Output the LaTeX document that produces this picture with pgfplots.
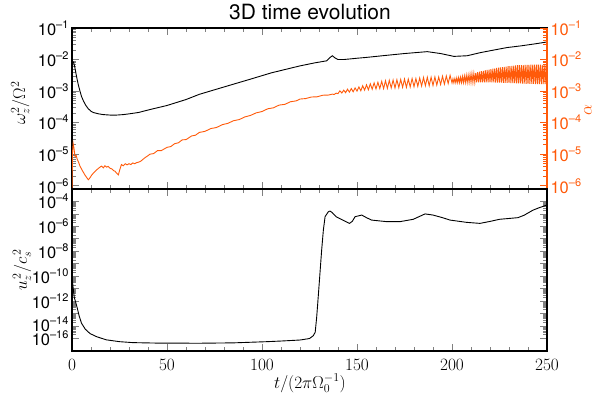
\documentclass[border=0pt]{standalone}
\usepackage{fontspec}
\setmainfont{TeX Gyre Heros}
\usepackage{pgfplots}
\pgfplotsset{compat=1.18}
\definecolor{alphaor}{RGB}{255,90,10}
% tick label 10^-n in the text font
\newcommand\tl[1]{10\raisebox{0.42em}{\fontsize{11}{11}\selectfont –#1}}

\begin{document}
\begin{tikzpicture}
\useasboundingbox (0,0) rectangle (600pt,395pt);
\pgfplotsset{
  every axis/.append style={
    scale only axis, width=475pt,
    xmin=0, xmax=250,
    tick label style={font=\fontsize{16.5}{19}\selectfont},
    label style={font=\fontsize{17}{20}\selectfont},
    tick align=inside, major tick length=7pt, minor tick length=4pt,
    axis line style={line width=1.1pt},
    every tick/.append style={line width=0.8pt},
  },
}
% ---------------- top panel (left axis) ----------------
\begin{axis}[
  at={(72pt,206pt)}, anchor=south west, height=161pt,
  ymode=log, ymin=7.9e-7, ymax=0.1,
  xtick={0,50,100,150,200,250}, minor x tick num=4, xticklabels={},
  xtick pos=both, ytick pos=left,
  ytick={1e-6,1e-5,1e-4,1e-3,1e-2,1e-1},
  yticklabels={\tl6,\tl5,\tl4,\tl3,\tl2,\tl1},
  minor ytick={2e-6,3e-6,4e-6,5e-6,6e-6,7e-6,8e-6,9e-6,
               2e-5,3e-5,4e-5,5e-5,6e-5,7e-5,8e-5,9e-5,
               2e-4,3e-4,4e-4,5e-4,6e-4,7e-4,8e-4,9e-4,
               2e-3,3e-3,4e-3,5e-3,6e-3,7e-3,8e-3,9e-3,
               2e-2,3e-2,4e-2,5e-2,6e-2,7e-2,8e-2,9e-2},
  ylabel={$\omega_z^2/\Omega^2$},
  ylabel style={at={(axis description cs:-0.109,0.534)}, anchor=center},
  title={3D time evolution},
  title style={at={(axis description cs:0.501,1.062)}, anchor=center,
               font=\fontsize{21}{24}\selectfont},
]
\addplot[black, line width=0.9pt] coordinates {
(0,7.6e-3) (0.8,8.3e-3) (1.5,5.6e-3) (2.5,2.7e-3) (3.3,1.6e-3) (4.2,1.0e-3)
(5,6.8e-4) (6,4.9e-4) (7.3,3.5e-4) (8.6,2.75e-4) (10,2.3e-4) (11.2,2.1e-4)
(14,1.9e-4) (16.5,1.8e-4) (20,1.74e-4) (23.5,1.74e-4) (27,1.8e-4) (30,1.9e-4)
(35,2.1e-4) (41,2.6e-4) (50,3.5e-4) (60,5.4e-4) (67,7.9e-4) (75,1.1e-3)
(85,1.66e-3) (94,2.4e-3) (105,3.8e-3) (120,6.3e-3) (128,7.9e-3) (134,9.1e-3)
(135.5,1.12e-2) (137,1.32e-2) (138.5,1.12e-2) (140,1.0e-2) (143,1.0e-2)
(150,1.1e-2) (155,1.17e-2) (165,1.35e-2) (175,1.55e-2) (187,1.78e-2)
(194,1.55e-2) (201,1.26e-2) (208,1.32e-2) (215,1.66e-2) (222,2.0e-2)
(229,2.4e-2) (236,2.7e-2) (243,3.1e-2) (250,3.6e-2)
};
\end{axis}
% ---------------- top panel (right axis, alpha) ----------------
\begin{axis}[
  at={(72pt,206pt)}, anchor=south west, height=161pt,
  ymode=log, ymin=7.9e-7, ymax=0.1,
  hide x axis, axis y line*=right,
  y axis line style={alphaor, line width=1.1pt},
  every y tick/.append style={alphaor},
  yticklabel style={alphaor},
  ytick={1e-6,1e-5,1e-4,1e-3,1e-2,1e-1},
  yticklabels={\tl6,\tl5,\tl4,\tl3,\tl2,\tl1},
  minor ytick={2e-6,3e-6,4e-6,5e-6,6e-6,7e-6,8e-6,9e-6,
               2e-5,3e-5,4e-5,5e-5,6e-5,7e-5,8e-5,9e-5,
               2e-4,3e-4,4e-4,5e-4,6e-4,7e-4,8e-4,9e-4,
               2e-3,3e-3,4e-3,5e-3,6e-3,7e-3,8e-3,9e-3,
               2e-2,3e-2,4e-2,5e-2,6e-2,7e-2,8e-2,9e-2},
  ylabel={$\alpha$},
  ylabel style={alphaor, at={(axis description cs:1.086,0.49)}, anchor=center},
]
\addplot[alphaor, line width=0.9pt] coordinates {
(0,7e-7) (0.3,1.2e-5) (0.6,2.2e-5) (1.0,1.6e-5) (1.6,8.5e-6) (2.2,9e-6)
(2.8,6.8e-6) (3.5,5.5e-6) (4.2,4.2e-6) (5.5,3e-6) (6.8,2.2e-6) (7.8,1.8e-6)
(8.6,1.55e-6) (9.5,1.8e-6) (10.4,2.2e-6) (11.5,2.6e-6) (13,3.2e-6) (14,3.6e-6)
(15,4.0e-6) (15.6,4.2e-6) (16.5,3.7e-6) (17.3,4.3e-6) (18.2,3.9e-6) (19,4.1e-6)
(20,3.6e-6) (21,3.4e-6) (22,3.0e-6) (22.6,2.9e-6) (23.5,2.5e-6) (24.4,2.2e-6)
(25,3.0e-6) (26,4.7e-6) (27,4.3e-6) (28,5.0e-6) (29,4.6e-6) (30,5.0e-6)
(31,4.7e-6) (32,5.3e-6) (33,5.0e-6) (34,5.4e-6) (35,5.6e-6) (36,5.9e-6)
(37,6.6e-6) (38,7.4e-6) (39,8.2e-6) (40,9.0e-6) (41,1.0e-5) (43,1.05e-5)
(45,1.3e-5) (47,1.3e-5) (50,1.65e-5) (52,1.75e-5) (54,2.15e-5) (56,2.3e-5)
(58,2.85e-5) (60,2.9e-5) (63,3.8e-5) (65,4.0e-5) (67,4.9e-5) (70,5.3e-5)
(73,6.5e-5) (76,7.0e-5) (79,8.6e-5) (82,9.5e-5) (85,1.15e-4) (88,1.25e-4)
(91,1.52e-4) (94,1.7e-4) (97,2.05e-4) (100,2.25e-4) (103,2.75e-4) (106,2.95e-4)
(109,3.6e-4) (112,3.8e-4) (115,4.6e-4) (118,4.9e-4) (120,5.6e-4) (123,5.8e-4)
(126,6.5e-4) (129,6.6e-4) (132,7.4e-4) (135,7.5e-4) (137,8.0e-4) (138,7.8e-4)
(139,8.6e-4)
(140,8.3e-4) (141,1.02e-3) (142,8.7e-4) (143,1.07e-3) (144,8.9e-4) (145,1.15e-3)
(146,9.3e-4) (147,1.2e-3) (148,9.5e-4) (149,1.26e-3) (150,1.0e-3) (151,1.35e-3)
(152,1.02e-3) (153,1.48e-3) (154,1.07e-3) (155,1.58e-3) (156,1.1e-3) (157,1.7e-3)
(158,1.15e-3) (159,1.82e-3) (160,1.17e-3) (161,1.9e-3) (162,1.2e-3) (163,2.04e-3)
(164,1.2e-3) (165,2.14e-3) (166,1.23e-3) (167,2.19e-3) (168,1.26e-3) (169,2.24e-3)
(170,1.26e-3) (171,2.29e-3) (172,1.29e-3) (173,2.34e-3) (174,1.32e-3) (175,2.4e-3)
(176,1.32e-3) (177,2.4e-3) (178,1.35e-3) (179,2.5e-3) (180,1.38e-3) (181,2.5e-3)
(182,1.41e-3) (183,2.6e-3) (184,1.45e-3) (185,2.7e-3) (186,1.48e-3) (187,2.75e-3)
(188,1.48e-3) (189,2.75e-3) (190,1.51e-3) (191,2.8e-3) (192,1.55e-3) (193,2.8e-3)
(194,1.62e-3) (195,2.95e-3) (196,1.66e-3) (197,3.0e-3) (198,1.74e-3) (199,3.16e-3)
(200,1.82e-3) (200.5,2.45e-3) (201,1.83e-3) (201.5,2.5e-3) (202,1.84e-3)
(202.5,2.6e-3) (203,1.85e-3) (203.5,2.7e-3) (204,1.86e-3) (204.5,2.75e-3)
(205,1.86e-3) (205.5,2.9e-3) (206,1.87e-3) (206.5,3.0e-3) (207,1.88e-3)
(207.5,3.16e-3) (208,1.89e-3) (208.5,3.2e-3) (209,1.9e-3) (209.5,3.4e-3)
(210,1.9e-3) (210.5,3.55e-3) (211,1.9e-3) (211.5,3.6e-3) (212,1.9e-3)
(212.5,3.8e-3) (213,1.9e-3) (213.5,4.0e-3) (214,1.9e-3) (214.5,4.1e-3)
(215,1.9e-3) (215.5,4.3e-3) (216,1.9e-3) (216.5,4.4e-3) (217,1.9e-3)
(217.5,4.6e-3) (218,1.9e-3) (218.5,4.7e-3) (219,1.9e-3) (219.5,4.8e-3)
(220,1.9e-3) (220.5,5.0e-3) (221,1.89e-3) (221.5,5.1e-3) (222,1.88e-3)
(222.5,5.25e-3) (223,1.87e-3) (223.5,5.4e-3) (224,1.86e-3) (224.5,5.5e-3)
(225,1.86e-3) (225.5,5.6e-3) (226,1.85e-3) (226.5,5.75e-3) (227,1.84e-3)
(227.5,5.9e-3) (228,1.83e-3) (228.5,6.0e-3) (229,1.82e-3) (229.5,6.2e-3)
(230,1.82e-3) (230.5,6.2e-3) (231,1.8e-3) (231.5,6.3e-3) (232,1.79e-3)
(232.5,6.4e-3) (233,1.78e-3) (233.5,6.5e-3) (234,1.77e-3) (234.5,6.6e-3)
(235,1.76e-3) (235.5,6.6e-3) (236,1.75e-3) (236.5,6.7e-3) (237,1.74e-3)
(237.5,6.7e-3) (238,1.72e-3) (238.5,6.8e-3) (239,1.71e-3) (239.5,6.8e-3)
(240,1.7e-3) (240.5,6.8e-3) (241,1.7e-3) (241.5,6.9e-3) (242,1.69e-3)
(242.5,6.9e-3) (243,1.69e-3) (243.5,6.9e-3) (244,1.68e-3) (244.5,6.9e-3)
(245,1.68e-3) (245.5,6.9e-3) (246,1.67e-3) (246.5,6.9e-3) (247,1.67e-3)
(247.5,6.8e-3) (248,1.66e-3) (248.5,6.8e-3) (249,1.66e-3) (249.5,6.8e-3)
(250,1.66e-3)
};
\end{axis}
% ---------------- bottom panel ----------------
\begin{axis}[
  at={(72pt,44pt)}, anchor=south west, height=162pt,
  ymode=log, ymin=1e-16, ymax=1e-3,
  xtick={0,50,100,150,200,250}, minor x tick num=4,
  xtick pos=both, ytick pos=both,
  xticklabel pos=bottom, yticklabel pos=left,
  xticklabel style={yshift=-5pt},
  ytick={1e-15,1e-14,1e-13,1e-12,1e-11,1e-10,1e-9,1e-8,1e-7,1e-6,1e-5,1e-4},
  yticklabels={\raisebox{-1pt}{\tl{16}},\raisebox{4pt}{\tl{14}},{},\tl{12},{},\tl{10},{},\tl8,{},\tl6,{},\tl4},
  minor ytick={},
  xlabel={$t/(2\pi\Omega_0^{-1})$},
  xlabel style={at={(axis description cs:0.501,-0.2)}, anchor=center},
  ylabel={$u_z^{\,2}/c_s^{\,2}$},
  ylabel style={at={(axis description cs:-0.105,0.5)}, anchor=center},
]
\addplot[black, line width=0.9pt] coordinates {
(0,1.1e-10) (0.5,1.6e-11) (1.2,2e-12) (2.6,3.5e-13) (3.8,6.3e-14) (5,1.7e-14)
(7,5.6e-15) (9.5,2.5e-15) (13,1.4e-15) (18,7.9e-16) (25,5.6e-16) (32,4.7e-16)
(45,4.3e-16) (67,4.2e-16) (85,4.5e-16) (102.6,5.6e-16) (110,6.3e-16)
(120,7.6e-16) (125,1e-15) (127,1.7e-15) (128,3.2e-15) (128.8,5.6e-14)
(129.6,2.3e-12) (130.5,1.7e-10) (131.4,1.26e-8) (132.3,5.1e-7) (133.2,6e-6)
(134.9,1.5e-5) (135.8,1.7e-5) (137,1.26e-5) (139,6e-6) (142,3.5e-6)
(146,1.74e-6) (147.5,2.5e-6) (149,6e-6) (152.5,8.1e-6) (155,5e-6)
(157.7,3.2e-6) (165.6,2.4e-6) (172.6,2.4e-6) (179.6,3.7e-6) (185.8,1e-5)
(190,8.1e-6) (195,5e-6) (199,3.2e-6) (207.7,2.1e-6) (214.7,1.74e-6)
(220,2.5e-6) (225,3.7e-6) (234.7,5e-6) (238,7.9e-6) (242.6,2e-5)
(246,3.2e-5) (250,5.2e-5)
};
\end{axis}
\end{tikzpicture}
\end{document}
